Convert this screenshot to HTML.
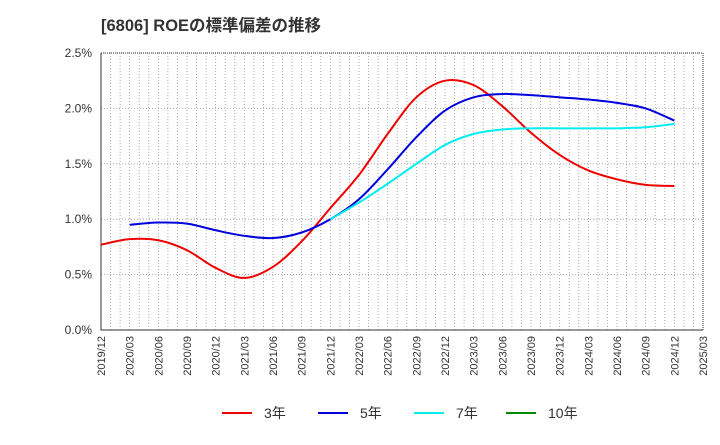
<!DOCTYPE html>
<html><head><meta charset="utf-8"><style>
body{margin:0;background:#fff;font-family:"Liberation Sans","Noto Sans CJK JP",sans-serif}
</style></head><body>
<svg width="720" height="440" xmlns="http://www.w3.org/2000/svg">
<text x="101" y="31" font-size="16.5" font-weight="bold" fill="#333" font-family="Liberation Sans,Noto Sans CJK JP,sans-serif">[6806]  ROEの標準偏差の推移</text>
<g id="grid"></g><g id="axes"></g><g id="series"></g>
<g id="legend" font-size="14" fill="#333"></g>
</svg>
<script>
const categories=["2019/12","2020/03","2020/06","2020/09","2020/12","2021/03","2021/06","2021/09","2021/12","2022/03","2022/06","2022/09","2022/12","2023/03","2023/06","2023/09","2023/12","2024/03","2024/06","2024/09","2024/12","2025/03"];
const yTicks=[0,0.5,1.0,1.5,2.0,2.5];
const s3=[0.77,0.82,0.81,0.72,0.56,0.47,0.57,0.80,1.10,1.40,1.77,2.10,2.25,2.21,2.02,1.78,1.58,1.44,1.36,1.31,1.30];
const s5=[null,0.95,0.97,0.96,0.90,0.85,0.83,0.88,1.00,1.18,1.45,1.74,1.98,2.10,2.13,2.12,2.10,2.08,2.05,2.00,1.89];
const s7=[null,null,null,null,null,null,null,null,1.00,1.15,1.32,1.50,1.67,1.77,1.81,1.82,1.82,1.82,1.82,1.83,1.86];
const s10=[];
const L=101,R=703,T=53,B=330,NS="http://www.w3.org/2000/svg";
const X=i=>L+(R-L)*i/(categories.length-1);
const Y=v=>B-(B-T)*v/2.5;
function mk(tag,attrs,parent){const e=document.createElementNS(NS,tag);for(const k in attrs)e.setAttribute(k,attrs[k]);parent.appendChild(e);return e;}
const grid=document.getElementById('grid'),axes=document.getElementById('axes'),ser=document.getElementById('series'),leg=document.getElementById('legend');
const months=(categories.length-1)*3;
for(let m=1;m<months;m++){const x=L+(R-L)*m/months;
const g=mk('line',{x1:x,x2:x,y1:T,y2:B,stroke:'#999','stroke-width':0.8,'stroke-dasharray':'1,2'},grid);

}
yTicks.forEach(v=>{const y=Y(v);
if(v>0){const g=mk('line',{x1:L,x2:R,y1:y,y2:y,stroke:'#999','stroke-width':0.8,'stroke-dasharray':'1,2'},grid);

}
const t=mk('text',{x:92,y:y+4,'text-anchor':'end','font-size':12,fill:'#333'},axes);t.textContent=v.toFixed(1)+'%';

});
categories.forEach((c,i)=>{const x=X(i);
const t=mk('text',{x:0,y:0,transform:`translate(${x+4},336) rotate(-90)`,'text-anchor':'end','font-size':11,fill:'#333'},axes);t.textContent=c;

});
const frame=mk('path',{d:`M${L},${T}H${R}V${B}H${L}Z`,fill:'none',stroke:'#333','stroke-width':1,'stroke-dasharray':'1,1'},axes);


const ax=mk('path',{d:`M${L},${T}V${B}H${R}`,fill:'none',stroke:'#333','stroke-width':1},axes);


function path(data){const p=[];data.forEach((v,i)=>{if(v!=null)p.push([X(i),Y(v)]);});
if(p.length<2)return '';let d=`M${p[0][0]},${p[0][1]}`;
for(let i=0;i<p.length-1;i++){const p0=p[i-1]||p[i],p1=p[i],p2=p[i+1],p3=p[i+2]||p2;
d+=` C${p1[0]+(p2[0]-p0[0])/6},${p1[1]+(p2[1]-p0[1])/6} ${p2[0]-(p3[0]-p1[0])/6},${p2[1]-(p3[1]-p1[1])/6} ${p2[0]},${p2[1]}`;}return d;}
const series=[[s3,'#e00','3年','line-3yr',222],[s5,'#00d','5年','line-5yr',318],[s7,'#0ee','7年','line-7yr',414],[s10,'#080','10年','line-10yr',506]];
series.forEach(([d,c,n,name,lx])=>{const pd=path(d);
if(pd){const e=mk('path',{d:pd,fill:'none',stroke:c,'stroke-width':2},ser);

}
const g=mk('g',{},leg);


mk('line',{x1:lx,x2:lx+30,y1:413,y2:413,stroke:c,'stroke-width':2},g);
const t=mk('text',{x:lx+42,y:418},g);t.textContent=n;});
</script>
</body></html>
